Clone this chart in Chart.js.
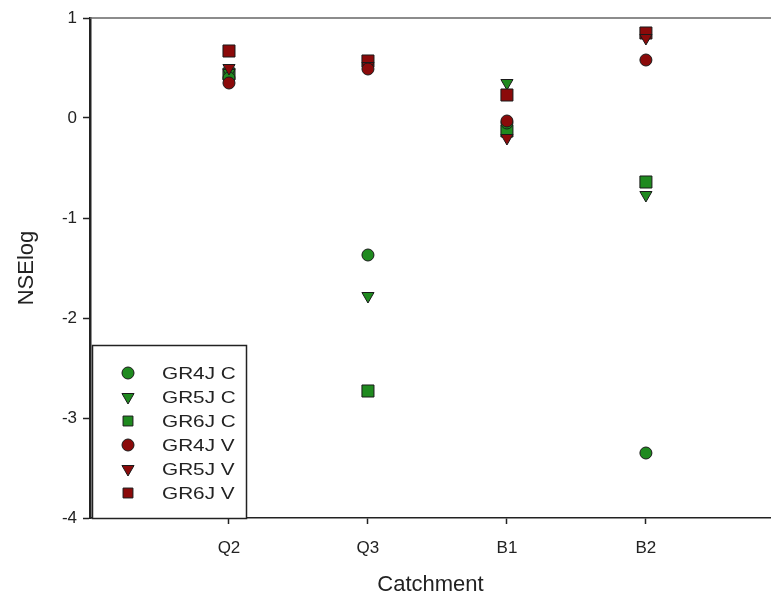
<!DOCTYPE html>
<html>
<head>
<meta charset="utf-8">
<script src="https://cdn.jsdelivr.net/npm/chart.js@4/dist/chart.umd.min.js"></script>
<style>
  body { margin: 0; background: #fff; }
  #wrap { width: 771px; height: 598px; }
</style>
</head>
<body>
<div id="wrap"><canvas id="myChart" width="771" height="598"></canvas></div>
<script>
const categories = ["Q2", "Q3", "B1", "B2"];
const yTicks = [1, 0, -1, -2, -3, -4];

const gr4jC = [0.40, -1.37, -0.05, -3.35];
const gr5jC = [0.45, -1.78, 0.35, -0.77];
const gr6jC = [0.44, -2.73, -0.13, -0.64];
const gr4jV = [0.35, 0.49, -0.03, 0.58];
const gr5jV = [0.50, 0.52, -0.20, 0.80];
const gr6jV = [0.67, 0.57, 0.23, 0.85];

const green = "#1f8a1f";
const red = "#8b0a0a";
const FONT = "'Liberation Sans', Arial, sans-serif";

function pts(vals) {
    return vals.map((v, i) => ({ x: i + 1, y: v }));
}

function makeSet(label, vals, color, style, r, order) {
    return {
        label: label,
        data: pts(vals),
        backgroundColor: color,
        borderColor: "#1a1a1a",
        borderWidth: 1,
        pointStyle: style,
        pointRadius: r,
        pointHoverRadius: r,
        rotation: style === "triangle" ? 180 : 0,
        order: order
    };
}

const datasets = [
    makeSet("GR4J C", gr4jC, green, "circle", 6, 2),
    makeSet("GR5J C", gr5jC, green, "triangle", 7, 2),
    makeSet("GR6J C", gr6jC, green, "rect", 8.5, 2),
    makeSet("GR4J V", gr4jV, red, "circle", 6, 1),
    makeSet("GR5J V", gr5jV, red, "triangle", 7, 1),
    makeSet("GR6J V", gr6jV, red, "rect", 8.5, 1)
];

// box legend in the lower left of the plot + top frame line
const boxLegend = {
    id: "boxLegend",
    afterDatasetsDraw(chart) {
        const ctx = chart.ctx;
        const a = chart.chartArea;
        ctx.save();
        ctx.strokeStyle = "#666";
        ctx.lineWidth = 1.5;
        ctx.beginPath();
        ctx.moveTo(a.left, a.top);
        ctx.lineTo(chart.width, a.top);
        ctx.stroke();

        const bx = a.left + 2, by = a.top + 327, bw = 154, bh = a.bottom - by;
        ctx.fillStyle = "#fff";
        ctx.fillRect(bx, by, bw, bh);
        ctx.strokeStyle = "#222";
        ctx.lineWidth = 1.5;
        ctx.strokeRect(bx + 0.5, by + 0.5, bw, bh);

        ctx.font = "17px " + FONT;
        ctx.textBaseline = "middle";
        chart.data.datasets.forEach((ds, i) => {
            const y = by + 28 + i * 24;
            ctx.fillStyle = ds.backgroundColor;
            ctx.strokeStyle = ds.borderColor;
            ctx.lineWidth = 1;
            Chart.helpers.drawPoint(ctx, {
                pointStyle: ds.pointStyle,
                radius: ds.pointStyle === "rect" ? 7 : ds.pointRadius,
                rotation: ds.rotation,
                borderWidth: 1
            }, a.left + 38, y);
            ctx.save();
            ctx.translate(a.left + 72, y);
            ctx.scale(1.22, 1);
            ctx.fillStyle = "#222";
            ctx.fillText(ds.label, 0, 1);
            ctx.restore();
        });
        ctx.restore();
    }
};

const ctx = document.getElementById("myChart");
const myChart = new Chart(ctx, {
    type: "scatter",
    data: { datasets: datasets },
    options: {
        responsive: false,
        animation: false,
        layout: { autoPadding: false, padding: { left: 0, right: 0, top: 18, bottom: 0 } },
        plugins: {
            legend: { display: false },
            tooltip: { enabled: false }
        },
        scales: {
            x: {
                type: "linear",
                min: 0,
                max: 4.9,
                afterBuildTicks(scale) {
                    scale.ticks = categories.map((c, i) => ({ value: i + 1 }));
                },
                afterFit(scale) {
                    scale.height = 80;
                },
                ticks: {
                    callback: (v) => categories[v - 1],
                    color: "#222",
                    font: { size: 17, family: FONT },
                    padding: 14,
                    maxRotation: 0
                },
                grid: { drawOnChartArea: false, drawTicks: true, tickLength: 6, color: "#222", tickWidth: 1.5 },
                border: { display: true, color: "#222", width: 1.5 },
                title: {
                    display: true,
                    text: "Catchment",
                    color: "#222",
                    font: { size: 22, family: FONT },
                    padding: { top: 0, bottom: 0 }
                }
            },
            y: {
                min: -4,
                max: 1,
                afterBuildTicks(scale) {
                    scale.ticks = yTicks.map(v => ({ value: v }));
                },
                afterFit(scale) { scale.width = 90; },
                ticks: {
                    color: "#222",
                    font: { size: 17, family: FONT },
                    padding: 6
                },
                grid: { drawOnChartArea: false, drawTicks: true, tickLength: 7, color: "#222", tickWidth: 1.5 },
                border: { display: true, color: "#222", width: 2.5 },
                title: {
                    display: true,
                    text: "NSElog",
                    color: "#222",
                    font: { size: 22, family: FONT },
                    padding: { top: 14, bottom: 0 }
                }
            }
        }
    },
    plugins: [boxLegend]
});
</script>
</body>
</html>
